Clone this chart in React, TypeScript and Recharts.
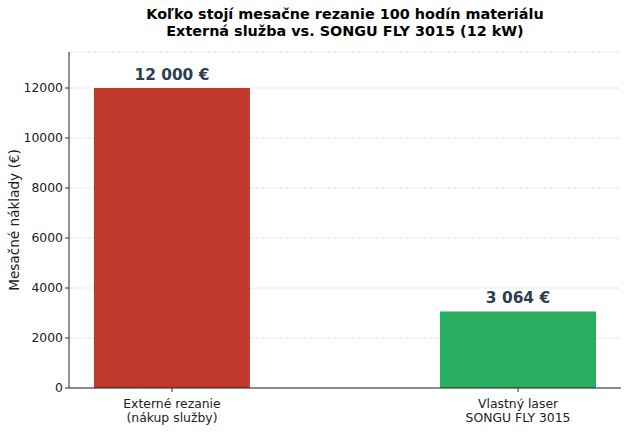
import React from "react";
import { BarChart, Bar, XAxis, YAxis, CartesianGrid, Cell, LabelList } from "recharts";

const categories = ["Externé rezanie\n(nákup služby)", "Vlastný laser\nSONGU FLY 3015"];
const costs = [12000, 3064];
const barColors = ["#c0392b", "#27ae60"];
const yTicks = [0, 2000, 4000, 6000, 8000, 10000, 12000];

const data = categories.map((name, i) => ({ x: i, name, value: costs[i], color: barColors[i] }));

const FONT = "'DejaVu Sans', sans-serif";

const formatEur = (v: number) => `${String(v).replace(/\B(?=(\d{3})+(?!\d))/g, " ")} €`;

const XTick = (props: any) => {
  const { x, y, payload } = props;
  const lines = categories[payload.value].split("\n");
  return (
    <g transform={`translate(${x},${y})`}>
      <line x1={0} y1={-8} x2={0} y2={-4} stroke="#333" />
      {lines.map((l, i) => (
        <text key={i} x={0} y={12 + i * 14} textAnchor="middle" fontSize={12.4} fontFamily={FONT} fill="#222">
          {l}
        </text>
      ))}
    </g>
  );
};

const App = () => {
  return (
    <div style={{ position: "absolute", left: 0, top: 0, width: 630, height: 432, background: "#fff" }}>
      <div
        style={{
          position: "absolute",
          left: 69,
          width: 552,
          top: 6,
          textAlign: "center",
          fontFamily: FONT,
          fontWeight: "bold",
          fontSize: 14.4,
          lineHeight: "17px",
          color: "#000",
        }}
      >
        Koľko stojí mesačne rezanie 100 hodín materiálu
        <br />
        Externá služba vs. SONGU FLY 3015 (12 kW)
      </div>
      <BarChart width={630} height={432} data={data} margin={{ top: 52, right: 9, bottom: 0, left: 9 }}>
        <CartesianGrid vertical={false} stroke="#e2e2e2" strokeDasharray="4 2" />
        <XAxis
          type="number"
          dataKey="x"
          domain={[-0.2975, 1.2975]}
          ticks={[0, 1]}
          height={44}
          axisLine={{ stroke: "#222" }}
          tickLine={false}
          tick={<XTick />}
          allowDataOverflow
        />
        <YAxis
          type="number"
          domain={[0, 13440]}
          ticks={yTicks}
          width={60}
          axisLine={{ stroke: "#222" }}
          tickLine={{ stroke: "#333" }}
          tickSize={4}
          tick={{ fontSize: 12.4, fontFamily: FONT, fill: "#222" }}
          label={{
            value: "Mesačné náklady (€)",
            angle: -90,
            position: "insideLeft",
            offset: 0,
            dx: 5,
            style: { textAnchor: "middle", fontSize: 13.6, fontFamily: FONT, fill: "#222" },
          }}
        />
        <Bar dataKey="value" barSize={156} isAnimationActive={false}>
          {data.map((d, i) => (
            <Cell key={`c-${i}`} fill={d.color} />
          ))}
          <LabelList
            dataKey="value"
            position="top"
            offset={8}
            formatter={(v: any) => formatEur(Number(v))}
            style={{ fontSize: 15.4, fontWeight: "bold", fontFamily: FONT, fill: "#2c3e50" }}
          />
        </Bar>
      </BarChart>
    </div>
  );
};

export default App;
